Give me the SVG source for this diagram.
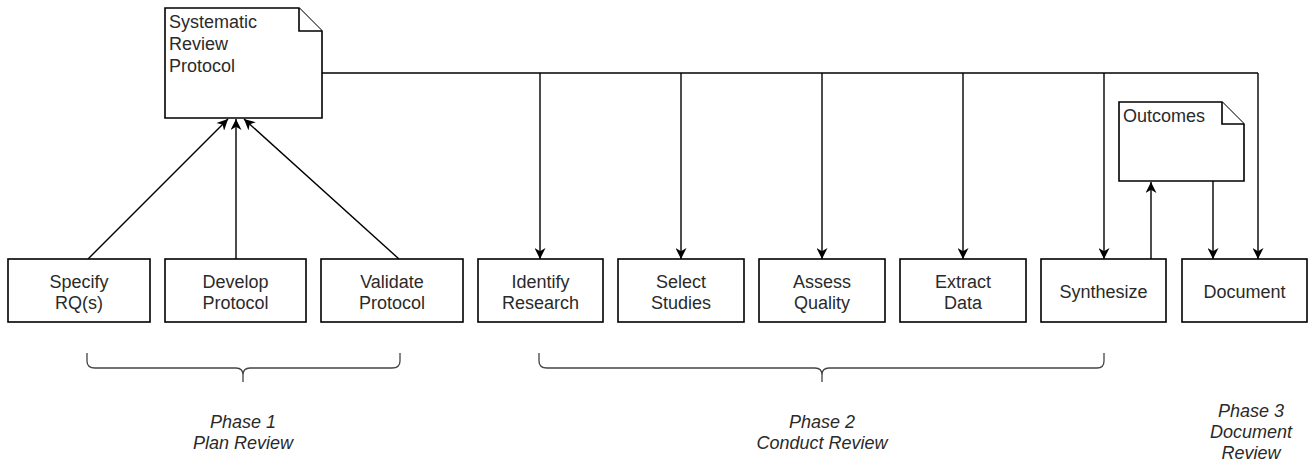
<svg xmlns="http://www.w3.org/2000/svg" width="1312" height="465" viewBox="0 0 1312 465">
<defs>
<marker id="arr" viewBox="0 0 10 10" refX="10" refY="5" markerWidth="12" markerHeight="11" markerUnits="userSpaceOnUse" orient="auto">
<path d="M0,0 L10,5 L0,10 L3,5 Z" fill="#000"/>
</marker>
<style>
.box{fill:#fff;stroke:#000;stroke-width:1.6}
.t{font-family:"Liberation Sans",Arial,sans-serif;font-size:18px;fill:#2a2a2a;text-anchor:middle}
.tl{font-family:"Liberation Sans",Arial,sans-serif;font-size:18px;fill:#2a2a2a}
.ph{font-family:"Liberation Sans",Arial,sans-serif;font-size:18px;font-style:italic;fill:#2a2a2a;text-anchor:middle}
.c{fill:none;stroke:#000;stroke-width:1.4}
.a{fill:none;stroke:#000;stroke-width:1.4;marker-end:url(#arr)}
.br{fill:none;stroke:#444;stroke-width:1.3}
</style>
</defs>
<rect width="1312" height="465" fill="#fff"/>

<g id="connectors">
<path class="c" d="M322,73 H1258"/>
<path class="a" d="M540,73 V259"/>
<path class="a" d="M681,73 V259"/>
<path class="a" d="M822,73 V259"/>
<path class="a" d="M963,73 V259"/>
<path class="a" d="M1104,73 V259"/>
<path class="a" d="M1258,73 V259"/>
<path class="a" d="M88,259 L228,119"/>
<path class="a" d="M236,259 V119"/>
<path class="a" d="M399,259 L244,119"/>
<path class="a" d="M1151,259 V182"/>
<path class="a" d="M1213,181 V259"/>
</g>

<g id="protocol">
<path class="box" d="M165,8 H299 L322,31 V118 H165 Z"/>
<path class="box" d="M299,8 V31 H322" fill="none"/>
<text class="tl" x="169" y="28">Systematic</text>
<text class="tl" x="169" y="50">Review</text>
<text class="tl" x="169" y="72">Protocol</text>
</g>

<g id="outcomes">
<path class="box" d="M1119,102 H1222 L1244,124 V181 H1119 Z"/>
<path class="box" d="M1222,102 V124 H1244" fill="none"/>
<text class="tl" x="1123" y="122">Outcomes</text>
</g>

<g id="specify"><rect class="box" x="8" y="259" width="142" height="63"/><text class="t" x="79" y="288">Specify</text><text class="t" x="79" y="309">RQ(s)</text></g>
<g id="develop"><rect class="box" x="165" y="259" width="141" height="63"/><text class="t" x="235.5" y="288">Develop</text><text class="t" x="235.5" y="309">Protocol</text></g>
<g id="validate"><rect class="box" x="321" y="259" width="142" height="63"/><text class="t" x="392" y="288">Validate</text><text class="t" x="392" y="309">Protocol</text></g>
<g id="identify"><rect class="box" x="478" y="259" width="125" height="63"/><text class="t" x="540.5" y="288">Identify</text><text class="t" x="540.5" y="309">Research</text></g>
<g id="select"><rect class="box" x="618" y="259" width="126" height="63"/><text class="t" x="681" y="288">Select</text><text class="t" x="681" y="309">Studies</text></g>
<g id="assess"><rect class="box" x="759" y="259" width="126" height="63"/><text class="t" x="822" y="288">Assess</text><text class="t" x="822" y="309">Quality</text></g>
<g id="extract"><rect class="box" x="900" y="259" width="126" height="63"/><text class="t" x="963" y="288">Extract</text><text class="t" x="963" y="309">Data</text></g>
<g id="synthesize"><rect class="box" x="1041" y="259" width="125" height="63"/><text class="t" x="1103.5" y="298">Synthesize</text></g>
<g id="document"><rect class="box" x="1182" y="259" width="125" height="63"/><text class="t" x="1244.5" y="298">Document</text></g>

<g id="brace1">
<path class="br" d="M87,353 V361 Q87,368 95,368 H236 Q243,368 243,375 V382 M243,375 Q243,368 250,368 H392 Q400,368 400,361 V353"/>
</g>
<g id="brace2">
<path class="br" d="M539,353 V361 Q539,368 547,368 H815 Q822,368 822,375 V382 M822,375 Q822,368 829,368 H1097 Q1104,368 1104,361 V353"/>
</g>

<g id="phase1"><text class="ph" x="243" y="428">Phase 1</text><text class="ph" x="243" y="449">Plan Review</text></g>
<g id="phase2"><text class="ph" x="822" y="428">Phase 2</text><text class="ph" x="822" y="449">Conduct Review</text></g>
<g id="phase3"><text class="ph" x="1251" y="417">Phase 3</text><text class="ph" x="1251" y="438">Document</text><text class="ph" x="1251" y="459">Review</text></g>
</svg>
